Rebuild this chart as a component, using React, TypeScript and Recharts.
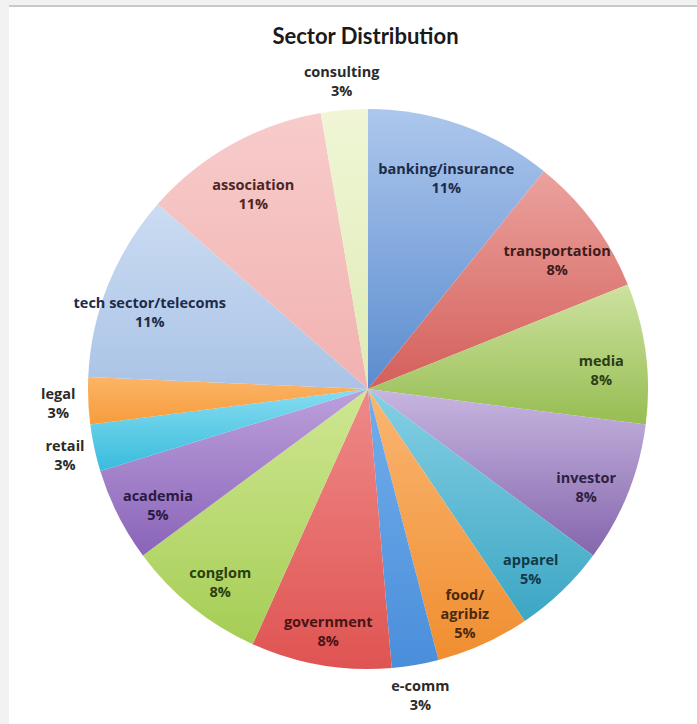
import { PieChart, Pie, Cell } from 'recharts';

// sector counts (37 responses) — percentages in the labels come from these
const sectors = [
    'banking/insurance',
    'transportation',
    'media',
    'investor',
    'apparel',
    'food/\nagribiz',
    'e-comm',
    'government',
    'conglom',
    'academia',
    'retail',
    'legal',
    'tech sector/telecoms',
    'association',
    'consulting',
];
const counts = [4, 3, 3, 3, 2, 2, 1, 3, 3, 2, 1, 1, 4, 4, 1];

const data = sectors.map((name, i) => ({ name, value: counts[i] }));

// [light top, dark bottom]
const shades = [
    ['#adc7ec', '#5b8ccf'],
    ['#eba29e', '#d45f5a'],
    ['#cde29f', '#96bd52'],
    ['#c7b6e0', '#8566ad'],
    ['#86d0e4', '#3ba6c4'],
    ['#fab672', '#f08e30'],
    ['#72aeea', '#4a8edb'],
    ['#ee8a88', '#df5452'],
    ['#cfe792', '#a5cd55'],
    ['#bca0dc', '#8a64b8'],
    ['#86dcf0', '#38bcdd'],
    ['#fcb466', '#f69c3c'],
    ['#cbdcf2', '#aac3e6'],
    ['#f7cccb', '#f1b2b0'],
    ['#f0f6d6', '#deebb4'],
];
const ink = [
    '#1d2b4a', '#3d1c1c', '#2c3c16', '#2d2142', '#113947',
    '#4a2a0e', '#222', '#4a1414', '#2a3e0e', '#2a1a42',
    '#222', '#222', '#1d2b4a', '#4a2626', '#222',
];

const RADIAN = Math.PI / 180;

function renderLabel(props: any) {
    const { cx, cy, midAngle, outerRadius, percent, name, index } = props;
    const outside = percent < 0.04;
    const r = outside ? outerRadius + 30 : outerRadius * 0.84;
    const x = cx + r * Math.cos(-midAngle * RADIAN);
    // excel drops inside labels a little below the radial point
    const y = cy + r * Math.sin(-midAngle * RADIAN) + (outside ? 0 : 10);
    const lines = [...String(name).split('\n'), `${Math.round(percent * 100)}%`];
    const lh = 19;
    const y0 = y - ((lines.length - 1) * lh) / 2;
    return (
        <text
            x={x}
            y={y0}
            textAnchor="middle"
            dominantBaseline="central"
            fill={outside ? '#2a2a2a' : ink[index]}
            style={{ fontFamily: '"Open Sans", sans-serif', fontWeight: 700, fontSize: 14.5 }}
        >
            {lines.map((l, k) => (
                <tspan key={k} x={x} y={y0 + k * lh}>
                    {l}
                </tspan>
            ))}
        </text>
    );
}

export default function App() {
    return (
        <div style={{ position: 'absolute', left: 0, top: 0, width: 697, height: 724, background: '#f2f2f2', overflow: 'hidden' }}>
            <div
                style={{
                    position: 'absolute',
                    left: 9,
                    top: 5,
                    width: 688,
                    height: 719,
                    background: '#fff',
                    borderTop: '2px solid #c9c9c9',
                }}
            />
            <div
                style={{
                    position: 'absolute',
                    left: 0,
                    width: 697,
                    top: 22,
                    textAlign: 'center',
                    paddingLeft: 34,
                    boxSizing: 'border-box',
                    fontFamily: 'Lato, sans-serif',
                    fontWeight: 700,
                    fontSize: 22,
                    color: '#1a1a1a',
                }}
            >
                Sector Distribution
            </div>
            <div style={{ position: 'absolute', left: 0, top: 0 }}>
                <PieChart width={697} height={724} margin={{ top: 0, right: 0, bottom: 0, left: 0 }}>
                    <defs>
                        {shades.map(([a, b], i) => (
                            <linearGradient key={i} id={`sg${i}`} x1="0" y1="0" x2="0" y2="1">
                                <stop offset="0%" stopColor={a} />
                                <stop offset="100%" stopColor={b} />
                            </linearGradient>
                        ))}
                    </defs>
                    <Pie
                        data={data}
                        dataKey="value"
                        nameKey="name"
                        cx={368}
                        cy={389}
                        outerRadius={280}
                        startAngle={90}
                        endAngle={-270}
                        stroke="none"
                        labelLine={false}
                        label={renderLabel}
                        isAnimationActive={false}
                    >
                        {data.map((_, i) => (
                            <Cell key={i} fill={`url(#sg${i})`} />
                        ))}
                    </Pie>
                </PieChart>
            </div>
        </div>
    );
}
